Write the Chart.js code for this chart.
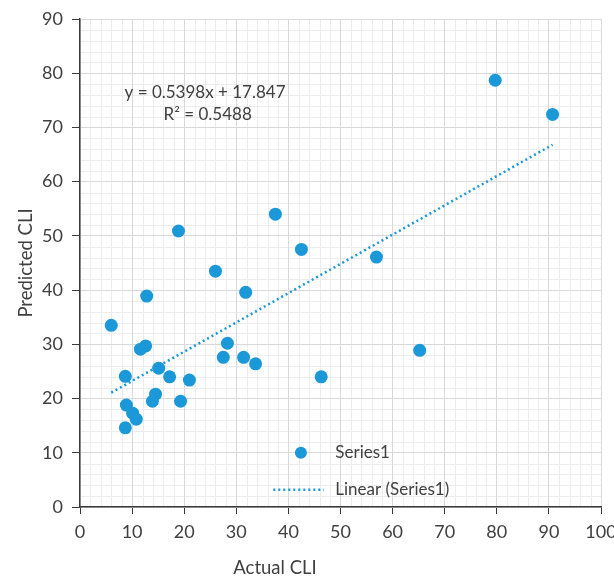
<!DOCTYPE html>
<html>
<head>
<meta charset="utf-8">
<script src="https://cdn.jsdelivr.net/npm/chart.js@4.4.0/dist/chart.umd.min.js"></script>
<style>
html,body{margin:0;padding:0;background:#fff;}
#wrap{width:614px;height:579px;}
</style>
</head>
<body>
<div id="wrap"><canvas id="c" width="614" height="579"></canvas></div>
<script>
// Data
const actualCLI = [79.7, 90.7, 37.5, 18.9, 42.5, 56.9, 26.0, 31.8, 12.8, 6.0,
                   12.6, 11.6, 28.3, 65.2, 27.5, 31.4, 33.7, 15.1, 8.7, 17.2,
                   46.3, 21.0, 14.5, 13.9, 19.3, 8.9, 10.1, 10.8, 8.7];
const predictedCLI = [78.7, 72.4, 54.0, 50.9, 47.5, 46.1, 43.5, 39.6, 38.9, 33.5,
                      29.7, 29.1, 30.2, 28.9, 27.6, 27.6, 26.4, 25.6, 24.1, 24.0,
                      24.0, 23.4, 20.8, 19.5, 19.5, 18.8, 17.3, 16.2, 14.6];
const trendSlope = 0.5398;
const trendIntercept = 17.847;
const trendX = [6.0, 90.7];
const xTicks = [0, 10, 20, 30, 40, 50, 60, 70, 80, 90, 100];
const yTicks = [0, 10, 20, 30, 40, 50, 60, 70, 80, 90];
const equationText = 'y = 0.5398x + 17.847';
const r2Text = 'R² = 0.5488';
const seriesName = 'Series1';
const trendName = 'Linear (Series1)';
const xTitle = 'Actual CLI';
const yTitle = 'Predicted CLI';

const BLUE = '#1B98D8';
const FONT = 'Lato, "Open Sans", sans-serif';
const TXT = '#404040';

const points = actualCLI.map((x, i) => ({x: x, y: predictedCLI[i]}));
const trend = trendX.map(x => ({x: x, y: trendSlope * x + trendIntercept}));

const minorGrid = {
  id: 'minorGrid',
  beforeDraw(chart) {
    const {ctx, chartArea: a, scales: {x, y}} = chart;
    ctx.save();
    ctx.strokeStyle = '#ececec';
    ctx.lineWidth = 1;
    for (let v = 0; v <= 100; v += 2) {
      if (v % 10 === 0) continue;
      const px = Math.round(x.getPixelForValue(v)) + 0.5;
      ctx.beginPath(); ctx.moveTo(px, a.top); ctx.lineTo(px, a.bottom); ctx.stroke();
    }
    for (let v = 0; v <= 90; v += 2) {
      if (v % 10 === 0) continue;
      const py = Math.round(y.getPixelForValue(v)) + 0.5;
      ctx.beginPath(); ctx.moveTo(a.left, py); ctx.lineTo(a.right, py); ctx.stroke();
    }
    ctx.restore();
  }
};

const annotations = {
  id: 'annotations',
  afterDraw(chart) {
    const {ctx, scales: {x, y}} = chart;
    ctx.save();
    ctx.fillStyle = TXT;
    ctx.font = '17px ' + FONT;
    ctx.textAlign = 'center';
    ctx.textBaseline = 'middle';
    ctx.fillText(equationText, x.getPixelForValue(24.0), y.getPixelForValue(76.4));
    ctx.fillText(r2Text, x.getPixelForValue(24.5), y.getPixelForValue(72.3));
    // x axis title
    ctx.font = '18.5px ' + FONT;
    ctx.fillText(xTitle, 275, 568);
    // legend
    ctx.fillStyle = BLUE;
    ctx.beginPath();
    ctx.arc(x.getPixelForValue(42.4), y.getPixelForValue(10.0), 6, 0, Math.PI * 2);
    ctx.fill();
    ctx.strokeStyle = BLUE;
    ctx.lineWidth = 2.5;
    ctx.setLineDash([2, 3]);
    const ly = y.getPixelForValue(3.2);
    ctx.beginPath();
    ctx.moveTo(x.getPixelForValue(37.1), ly);
    ctx.lineTo(x.getPixelForValue(46.8), ly);
    ctx.stroke();
    ctx.setLineDash([]);
    ctx.fillStyle = TXT;
    ctx.font = '17px ' + FONT;
    ctx.textAlign = 'left';
    ctx.fillText(seriesName, x.getPixelForValue(49.0), y.getPixelForValue(10.0));
    ctx.fillText(trendName, x.getPixelForValue(49.0), ly);
    ctx.restore();
  }
};

new Chart(document.getElementById('c'), {
  type: 'scatter',
  data: {
    datasets: [
      {
        label: seriesName,
        data: points,
        backgroundColor: BLUE,
        borderColor: BLUE,
        pointRadius: 6.5,
        pointBorderWidth: 0,
        order: 1
      },
      {
        label: trendName,
        type: 'line',
        data: trend,
        borderColor: BLUE,
        borderWidth: 2.5,
        borderDash: [2, 3],
        pointRadius: 0,
        fill: false,
        order: 2
      }
    ]
  },
  options: {
    responsive: false,
    animation: false,
    layout: {autoPadding: false, padding: {top: 19, right: 13, left: 0, bottom: 0}},
    plugins: {legend: {display: false}, tooltip: {enabled: false}},
    scales: {
      x: {
        type: 'linear',
        min: 0, max: 100,
        afterBuildTicks(s) { s.ticks = xTicks.map(v => ({value: v})); },
        afterFit(s) { s.height = 72; s.paddingLeft = 0; s.paddingRight = 0; },
        grid: {color: '#d9d9d9', tickColor: '#3a3a3a', tickLength: 7},
        border: {color: '#3a3a3a', width: 1.5},
        ticks: {color: TXT, font: {family: FONT, size: 18}, padding: 7, maxRotation: 0, autoSkip: false},
        title: {display: false}
      },
      y: {
        type: 'linear',
        min: 0, max: 90,
        afterBuildTicks(s) { s.ticks = yTicks.map(v => ({value: v})); },
        afterFit(s) { s.width = 80; s.paddingTop = 0; s.paddingBottom = 0; },
        grid: {color: '#d9d9d9', tickColor: '#3a3a3a', tickLength: 8},
        border: {color: '#3a3a3a', width: 1.5},
        ticks: {color: TXT, font: {family: FONT, size: 18}, padding: 9, autoSkip: false},
        title: {display: true, text: yTitle, color: TXT, font: {family: FONT, size: 18.5}, padding: {top: 15, bottom: 0}}
      }
    }
  },
  plugins: [minorGrid, annotations]
});
</script>
</body>
</html>
